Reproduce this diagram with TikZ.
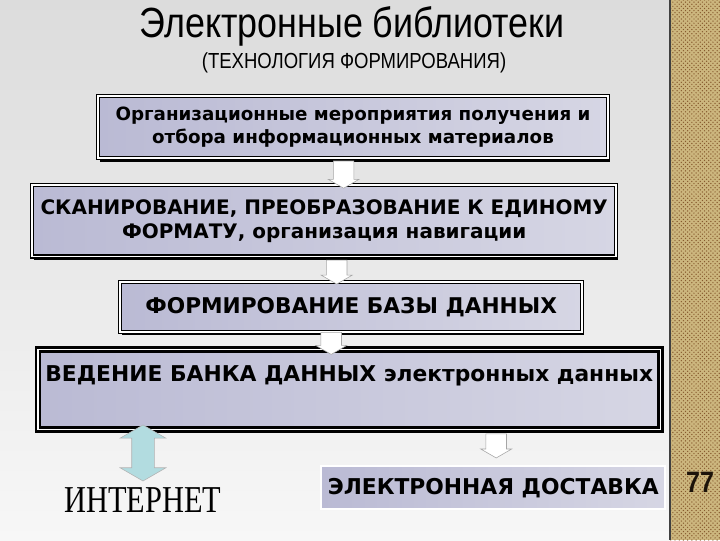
\documentclass[tikz,border=0pt]{standalone}
\usepackage{fontspec}
\setmainfont{DejaVu Sans}
\newfontfamily\ttlfont[FakeStretch=0.85]{Liberation Sans}
\newfontfamily\netfont[FakeStretch=0.8]{Liberation Serif}
\usetikzlibrary{positioning, calc, shapes.arrows, shadows, patterns}

\definecolor{lavleft}{RGB}{186,186,212}
\definecolor{lavright}{RGB}{214,214,228}
\definecolor{bgtop}{RGB}{220,220,220}
\definecolor{bgbot}{RGB}{247,247,247}
\definecolor{stripcol}{RGB}{204,182,126}
\definecolor{aqua}{RGB}{178,220,224}

\begin{document}
\begin{tikzpicture}[
  x=0.025cm, y=-0.025cm,
  stage/.style={draw=black, line width=0.9pt, double=white, double distance=1.2pt, left color=lavleft, right color=lavright, align=center, inner sep=0pt, drop shadow={shadow xshift=1.5pt, shadow yshift=-2.5pt, fill=black, opacity=1}},
  downarrow/.style={single arrow, rotate=-90, draw=gray!70, fill=white, inner xsep=0pt, inner ysep=0.25cm, single arrow head extend=0.13cm, single arrow tip angle=120},
  bothways/.style={double arrow, rotate=90, draw=gray!60, fill=aqua, inner xsep=0pt, inner ysep=0.275cm, double arrow head extend=0.29cm, double arrow tip angle=120}
]
  \useasboundingbox (0,0) rectangle (720,540);
  % background and side strip
  \shade[top color=bgtop, bottom color=bgbot] (0,0) rectangle (670,540);
  \fill[stripcol] (670,0) rectangle (720,540);
  \fill[pattern=crosshatch dots, pattern color=brown!70!black] (670,0) rectangle (720,540);
  \draw[line width=1.5pt, black!75] (670,0) -- (670,540);

  \node[font=\ttlfont\fontsize{30}{32}\selectfont] (title) at (352,26) {Электронные библиотеки};
  \node[font=\ttlfont\fontsize{15.5}{17}\selectfont] (subtitle) at (354,63) {(ТЕХНОЛОГИЯ ФОРМИРОВАНИЯ)};

  % stages
  \node[stage, minimum width=12.75cm, minimum height=1.55cm, font=\bfseries\fontsize{13}{16.5}\selectfont] (org) at (353,127)
    {Организационные мероприятия получения и\\отбора информационных материалов};
  \node[stage, below=0.65cm of org, xshift=-0.72cm, minimum width=14.6cm, minimum height=1.78cm, font=\bfseries\fontsize{14.2}{17}\selectfont] (scan)
    {СКАНИРОВАНИЕ, ПРЕОБРАЗОВАНИЕ К ЕДИНОМУ\\ФОРМАТУ, организация навигации};
  \node[stage, below=0.6cm of scan, xshift=0.675cm, minimum width=11.55cm, minimum height=1.25cm, font=\bfseries\fontsize{15.4}{19}\selectfont] (base)
    {ФОРМИРОВАНИЕ БАЗЫ ДАННЫХ};
  \node[stage, line width=1.8pt, double distance=1pt, below=0.4cm of base, xshift=-0.05cm, minimum width=15.55cm, inner ysep=0.4cm, text height=0.4cm, text depth=0.8cm, font=\bfseries\fontsize{15.5}{18}\selectfont] (bank)
    {ВЕДЕНИЕ БАНКА ДАННЫХ электронных данных};
  \node[draw=white, line width=1.5pt, left color=lavleft, right color=lavright, below=0.85cm of bank, xshift=3.6cm, minimum width=8.6cm, minimum height=1.08cm, inner sep=0pt, font=\bfseries\fontsize{15.5}{18}\selectfont] (deliv)
    {ЭЛЕКТРОННАЯ ДОСТАВКА};
  \node[font=\netfont\fontsize{27}{30}\selectfont] (net) at (143,500) {ИНТЕРНЕТ};

  % block arrows
  \node[downarrow, minimum height=0.68cm] (a1) at ($(org.south)!0.5!(scan.north)+(5,0)$) {};
  \node[downarrow, minimum height=0.6cm] (a2) at ($(scan.south)!0.5!(base.north)+(-1,0)$) {};
  \node[downarrow, minimum height=0.55cm] (a3) at ($(base.south)!0.5!(bank.north)+(-19,0)$) {};
  \node[downarrow, minimum height=0.6cm] (a4) at ($(bank.south)+(147,12)$) {};
  \node[bothways, minimum height=1.4cm] (a5) at ($(bank.south -| net)+(0,22)$) {};

  \node[font=\ttlfont\bfseries\fontsize{21}{22}\selectfont, black!85!brown] (page) at (700,482) {77};
\end{tikzpicture}
\end{document}
